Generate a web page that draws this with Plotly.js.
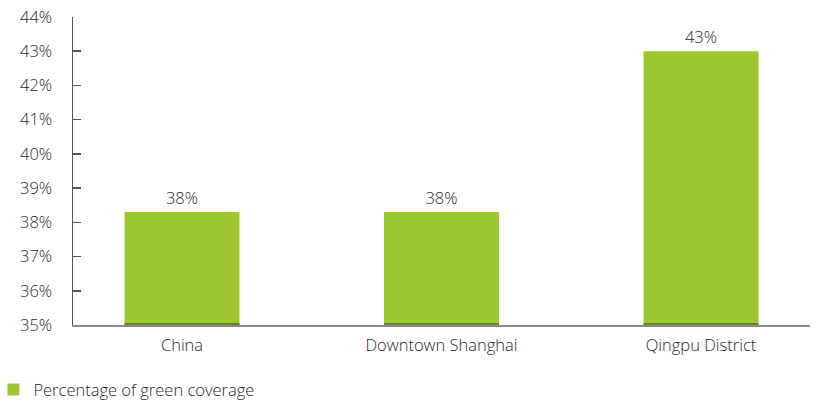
<!DOCTYPE html>
<html><head><meta charset="utf-8">
<script src="https://cdn.plot.ly/plotly-3.0.1.min.js"></script>
<style>html,body{margin:0;padding:0;background:#fff}#chart{width:817px;height:403px}</style>
</head><body><div id="chart"></div>
<script>
const categories = ["China", "Downtown Shanghai", "Qingpu District"];
const coverage = [38.3, 38.3, 43.0];
const labels = ["38%", "38%", "43%"];
const seriesName = "Percentage of green coverage";
const baseValue = 35;

const xIdx = categories.map((c, i) => i);
const font = {family: "Open Sans, sans-serif", size: 16.5, color: "#2b2727", weight: 300};

const traces = [
  {
    type: "bar", x: xIdx, y: coverage.map(v => v - baseValue), base: baseValue,
    name: seriesName, marker: {color: "#9dc731"},
    text: labels, textposition: "outside", cliponaxis: false,
    textfont: font, width: 0.443, hoverinfo: "skip"
  },
  {
    type: "bar", x: xIdx, y: coverage.map(() => 0.06), base: baseValue,
    showlegend: false, marker: {color: "#5f8a1c"}, width: 0.443, hoverinfo: "skip"
  }
];

const layout = {
  width: 817, height: 403,
  margin: {l: 73, r: 7, t: 17, b: 78, autoexpand: false},
  paper_bgcolor: "#fff", plot_bgcolor: "#fff",
  barmode: "overlay",
  font: font,
  showlegend: true,
  legend: {orientation: "h", x: -0.108, xanchor: "left", y: -0.21, yanchor: "middle",
           font: font, itemwidth: 30},
  xaxis: {
    range: [-0.42, 2.42], tickvals: xIdx, ticktext: categories,
    showline: true, linecolor: "#8f8a8a", linewidth: 2, ticks: "", showgrid: false,
    zeroline: false, tickfont: font, ticklabelstandoff: 4
  },
  yaxis: {
    range: [35, 44], dtick: 1, tick0: 35, ticksuffix: "%",
    showline: true, linecolor: "#5a5252", linewidth: 1.5,
    ticks: "inside", ticklen: 8, tickcolor: "#5a5252", tickwidth: 1.5,
    showgrid: false, zeroline: false, tickfont: font, ticklabelstandoff: 16
  }
};
Plotly.newPlot("chart", traces, layout, {displayModeBar: false, staticPlot: true});
</script></body></html>
